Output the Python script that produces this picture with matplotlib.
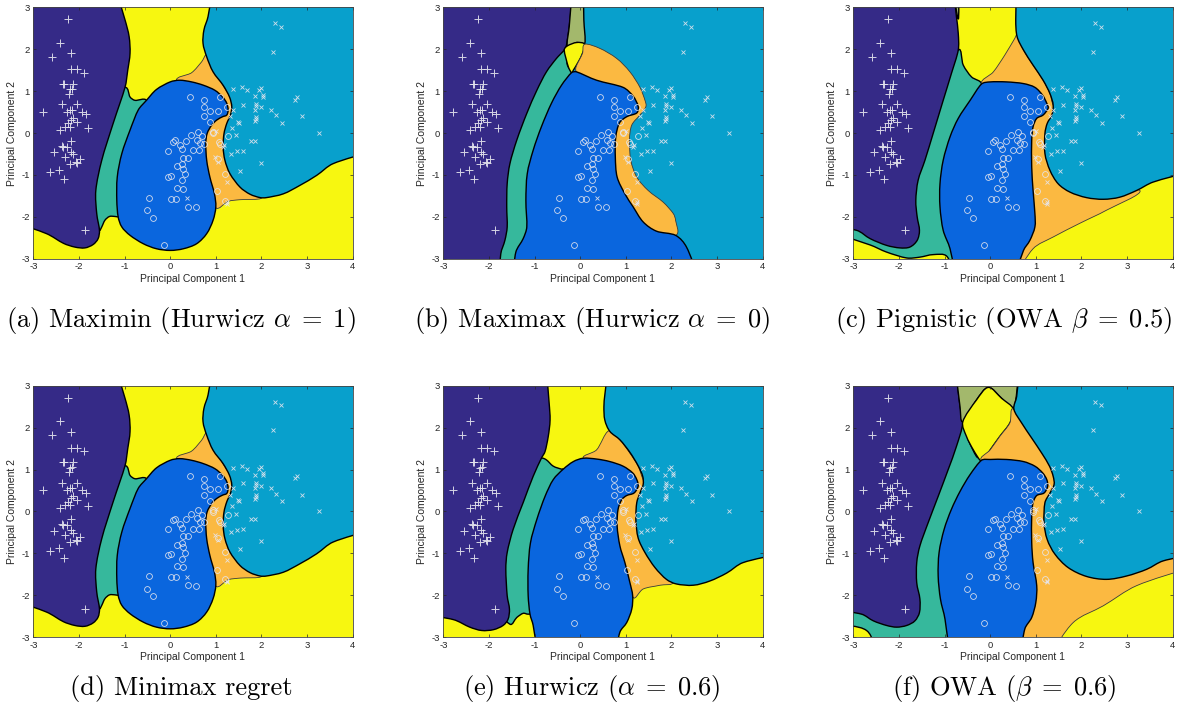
"""
Decision regions on the first two principal components (iris-like data),
six decision criteria in a 2x3 grid, MATLAB/parula look.
"""

import numpy as np
import matplotlib.pyplot as plt
from matplotlib.patches import PathPatch
from matplotlib.path import Path

plt.rcParams["font.family"] = ["Liberation Sans", "DejaVu Sans"]
plt.rcParams["mathtext.fontset"] = "cm"
plt.rcParams["axes.unicode_minus"] = False

# region colours
PURPLE = "#352a87"
TEAL = "#36b89c"
BLUE = "#0a66de"
LIGHT = "#08a0cc"
ORANGE = "#fbb941"
YELLOW = "#f7f710"
OLIVE = "#a3b86c"

# ---- scatter points ----
SETOSA_X = [-2.23, -2.42, -2.18, -2.60, -2.18, -2.05, -1.89, -2.36, -2.33, -2.12,
            -2.20, -2.16, -2.21, -2.38, -2.04, -2.78, -2.27, -2.20, -2.16, -1.94,
            -1.85, -2.12, -2.18, -2.04, -2.23, -2.30, -2.42, -2.20, -1.80, -2.18,
            -2.38, -2.34, -2.27, -2.55, -2.18, -2.14, -2.30, -1.98, -2.07, -2.20,
            -2.04, -2.43, -2.64, -2.33, -1.86]
SETOSA_Y = [2.71, 2.16, 1.90, 1.82, 1.52, 1.52, 1.44, 1.17, 1.17, 1.17,
            1.04, 1.06, 0.94, 0.69, 0.69, 0.50, 0.50, 0.55, 0.55, 0.50,
            0.45, 0.37, 0.31, 0.27, 0.23, 0.15, 0.08, 0.15, 0.12, -0.19,
            -0.31, -0.33, -0.33, -0.46, -0.45, -0.51, -0.57, -0.62, -0.68, -0.73,
            -0.71, -0.87, -0.94, -1.10, -2.32]

VERSI_X = [0.43, 0.75, 1.09, 0.74, 0.87, 1.05, 1.24, 0.74, 0.87, 0.61,
           0.45, 0.69, 0.58, 0.65, 0.74, 0.93, 0.94, 1.27, 1.08, 0.10,
           0.07, 0.21, 0.34, 0.25, 0.49, 0.63, -0.04, 0.40, 0.27, 0.25,
           0.14, 0.29, 0.32, 0.25, -0.04, 0.01, 0.14, 0.27, 1.05, 1.09,
           1.21, 1.03, 1.20, -0.46, 0.01, 0.12, -0.50, -0.37, 0.40, 0.56, -0.13]
VERSI_Y = [0.85, 0.78, 0.85, 0.61, 0.53, 0.53, 0.61, 0.40, 0.26, 0.03,
           -0.05, -0.08, -0.16, -0.24, -0.25, 0.03, -0.01, -0.08, -0.21, -0.17,
           -0.21, -0.29, -0.19, -0.39, -0.41, -0.41, -0.43, -0.59, -0.59, -0.75,
           -0.79, -0.85, -0.98, -1.13, -1.05, -1.02, -1.30, -1.33, -0.63, -0.25,
           -0.97, -1.39, -1.62, -1.54, -1.57, -1.57, -1.84, -2.02, -1.76, -1.77, -2.66]

VIRGI_X = [2.30, 2.43, 2.26, 1.38, 1.57, 1.69, 1.95, 1.99, 1.86, 2.04,
           2.04, 1.89, 1.87, 1.59, 2.20, 2.00, 1.86, 2.73, 2.77, 1.38,
           1.31, 1.87, 1.89, 2.31, 1.86, 2.89, 1.48, 1.51, 2.44, 1.36,
           1.00, 1.44, 3.27, 1.78, 1.86, 1.18, 1.16, 1.46, 1.59, 1.33,
           0.98, 1.05, 2.00, 1.54, 1.25, 0.37, 1.24, 1.24]
VIRGI_Y = [2.62, 2.54, 1.94, 1.04, 1.09, 1.02, 1.02, 1.07, 0.88, 0.91,
           0.86, 0.69, 0.64, 0.68, 0.56, 0.61, 0.55, 0.80, 0.85, 0.56,
           0.40, 0.39, 0.34, 0.42, 0.29, 0.40, 0.27, 0.25, 0.24, 0.13,
           0.05, -0.05, 0.00, -0.19, -0.19, -0.29, -0.33, -0.44, -0.43, -0.49,
           -0.57, -0.69, -0.71, -0.90, -1.17, -1.56, -1.69, -1.65]

# ---- decision regions (outline vertices in data units) ----
# (a) maximin, also (d) minimax regret
A_PURPLE = [(-3, 3), (-1.21, 3), (-0.99, 2.70), (-0.90, 2.30), (-0.88, 1.90), (-0.93, 1.50),
            (-0.99, 1.09), (-1.25, 0.23), (-1.50, -0.65), (-1.63, -1.37), (-1.61, -1.92),
            (-1.55, -2.32), (-1.58, -2.52), (-1.69, -2.66), (-1.87, -2.74), (-2.09, -2.72),
            (-2.34, -2.63), (-2.71, -2.40), (-3, -2.10)]
A_TEAL = [(-0.99, 1.09), (-0.88, 0.86), (-0.77, 0.78), (-0.52, 0.78), (-0.30, 0.0),
          (-0.40, -2.0), (-1.14, -2.0), (-1.21, -1.99), (-1.33, -1.99), (-1.43, -2.08),
          (-1.50, -2.24), (-1.55, -2.32), (-1.90, -0.81), (-1.54, 0.78)]
A_ORANGE = [(0.14, 1.25), (0.47, 1.44), (0.69, 1.70), (0.81, 1.86), (1.09, 1.26), (1.53, 0.39),
            (1.67, -1.29), (2.00, -1.55), (1.53, -1.59), (1.27, -1.63), (1.00, -1.78),
            (0.65, -0.81), (0.65, 0.78)]
A_BLUE = [(-0.52, 0.78), (-0.30, 1.04), (0.0, 1.22), (0.21, 1.26), (0.47, 1.22), (0.73, 1.14),
          (0.98, 1.02), (1.15, 0.86), (1.24, 0.71), (1.27, 0.55), (1.24, 0.43), (1.15, 0.39),
          (1.02, 0.31), (0.91, 0.19), (0.81, -0.01), (0.78, -0.25), (0.80, -0.65), (0.87, -1.05),
          (0.97, -1.45), (1.00, -1.76), (0.94, -2.08), (0.80, -2.40), (0.58, -2.64), (0.29, -2.76),
          (0.0, -2.80), (-0.30, -2.76), (-0.59, -2.64), (-0.88, -2.44), (-1.06, -2.24),
          (-1.14, -2.00), (-1.17, -1.61), (-1.16, -1.05), (-1.06, -0.49), (-0.88, 0.07),
          (-0.70, 0.55)]
A_LIGHT = [(0.94, 3), (4, 3), (4, -0.41), (3.57, -0.73), (3.21, -1.01), (2.84, -1.25),
           (2.48, -1.45), (2.11, -1.54), (1.97, -1.54), (1.75, -1.46), (1.53, -1.29),
           (1.31, -0.97), (1.20, -0.65), (1.16, -0.33), (1.18, -0.01), (1.24, 0.23), (1.32, 0.43),
           (1.35, 0.63), (1.30, 0.86), (1.16, 1.14), (0.94, 1.46), (0.80, 1.82), (0.72, 2.14),
           (0.74, 2.46), (0.83, 2.78)]

# (b) maximax
B_PURPLE = [(-3, 3), (-0.15, 3), (-0.24, 2.54), (-0.30, 2.10), (-0.35, 1.98), (-0.52, 1.78),
            (-0.74, 1.46), (-0.95, 1.02), (-1.17, 0.47), (-1.39, -0.17), (-1.54, -0.73),
            (-1.60, -1.21), (-1.61, -1.76), (-1.60, -2.24), (-1.65, -2.56), (-1.74, -2.88),
            (-1.77, -3), (-3, -3)]
B_TEAL = [(-0.35, 1.98), (-0.28, 1.62), (-0.19, 1.44), (-0.2, 0.5), (-0.7, -2.0), (-0.9, -3),
          (-1.9, -3), (-1.9, 0.0), (-0.9, 1.4)]
B_OLIVE = [(-0.17, 3), (0.07, 3), (0.08, 2.70), (0.10, 2.14), (-0.08, 2.16), (-0.28, 2.08),
           (-0.24, 2.54)]
B_YELLOW = [(-0.35, 1.98), (-0.28, 2.08), (-0.08, 2.16), (0.10, 2.12), (0.05, 1.90),
            (-0.04, 1.70), (-0.15, 1.50), (-0.19, 1.44), (-0.26, 1.58)]
B_ORANGE = [(0.10, 2.12), (0.43, 2.02), (0.80, 1.78), (1.09, 1.46), (1.31, 1.09), (1.42, 0.78),
            (1.44, 0.63), (1.31, 0.43), (1.13, 0.19), (1.08, -0.17), (1.11, -0.65), (1.24, -1.05),
            (1.49, -1.37), (1.82, -1.65), (2.04, -1.92), (2.09, -2.08), (2.09, -2.44),
            (1.38, -2.32), (0.65, -0.81), (0.65, 0.78), (-0.08, 1.46), (-0.09, 1.58), (0.05, 1.90)]
B_BLUE = [(-0.19, 1.44), (-0.08, 1.46), (0.36, 1.26), (0.94, 1.09), (1.16, 0.88), (1.27, 0.64),
          (1.24, 0.48), (1.02, 0.39), (0.86, 0.24), (0.78, -0.09), (0.77, -0.57), (0.81, -1.05),
          (0.98, -1.45), (1.16, -1.76), (1.38, -2.12), (1.67, -2.34), (2.09, -2.44), (2.33, -2.72),
          (2.61, -3), (-1.48, -3), (-1.41, -2.84), (-1.25, -2.52), (-1.17, -2.24), (-1.19, -1.61),
          (-1.16, -0.97), (-1.03, -0.41), (-0.85, 0.15), (-0.63, 0.71), (-0.41, 1.14)]

# (c) pignistic
C_PURPLE = [(-3, 3), (-0.81, 3), (-0.74, 2.78), (-0.70, 2.38), (-0.70, 1.98), (-0.85, 1.42),
            (-1.03, 0.78), (-1.25, -0.01), (-1.43, -0.65), (-1.58, -1.13), (-1.63, -1.61),
            (-1.60, -2.00), (-1.55, -2.32), (-1.60, -2.56), (-1.76, -2.72), (-1.98, -2.74),
            (-2.27, -2.68), (-2.63, -2.52), (-2.93, -2.32), (-3, -2.26)]
C_TEAL = [(-3, -2.26), (-2.0, 0.0), (-0.70, 1.98), (-0.59, 1.62), (-0.41, 1.34), (-0.19, 1.17),
          (-0.3, 0.0), (-0.6, -2.6), (-0.74, -3), (-0.95, -2.94), (-1.25, -2.90), (-1.54, -2.96),
          (-1.83, -2.98), (-2.27, -2.84), (-2.63, -2.67), (-3, -2.36)]
C_OLIVE = [(-0.82, 3), (-0.69, 3), (-0.70, 2.72)]
C_ORANGE = [(-0.19, 1.17), (0.07, 1.46), (0.32, 1.86), (0.54, 2.26), (0.59, 2.34), (0.73, 1.98),
            (0.94, 1.62), (1.16, 1.26), (1.31, 0.94), (1.38, 0.67), (1.75, -0.01), (2.11, -1.29),
            (3.28, -1.37), (2.55, -1.84), (1.97, -2.15), (1.38, -2.48), (0.94, -2.76), (0.50, -3),
            (0.3, -1.61), (0.3, 0.78)]
C_LIGHT = [(0.58, 3), (4, 3), (4, -0.89), (3.57, -1.17), (3.21, -1.37), (2.84, -1.53),
           (2.48, -1.58), (2.11, -1.54), (1.75, -1.41), (1.49, -1.21), (1.31, -0.89),
           (1.20, -0.49), (1.20, -0.01), (1.25, 0.23), (1.35, 0.43), (1.38, 0.67), (1.31, 0.94),
           (1.16, 1.26), (0.94, 1.62), (0.73, 1.98), (0.59, 2.30), (0.56, 2.70)]
C_BLUE = [(-0.19, 1.17), (0.0, 1.22), (0.36, 1.22), (0.73, 1.18), (0.98, 1.09), (1.15, 0.90),
          (1.24, 0.71), (1.27, 0.59), (1.16, 0.43), (1.02, 0.35), (0.94, 0.15), (0.91, -0.17),
          (0.91, -0.81), (0.94, -1.37), (0.98, -1.92), (0.98, -2.24), (0.87, -2.56), (0.73, -2.80),
          (0.51, -3), (-0.74, -3), (-0.88, -2.76), (-1.03, -2.32), (-1.10, -1.76), (-1.10, -1.21),
          (-1.03, -0.65), (-0.88, -0.09), (-0.70, 0.35), (-0.44, 0.78)]

# (e) hurwicz 0.6
E_PURPLE = [(-3, 3), (-0.75, 3), (-0.68, 2.58), (-0.66, 2.18), (-0.70, 1.79), (-0.77, 1.43),
            (-0.85, 1.27), (-1.03, 0.84), (-1.25, 0.21), (-1.47, -0.43), (-1.60, -0.98),
            (-1.63, -1.38), (-1.60, -2.01), (-1.55, -2.33), (-1.58, -2.57), (-1.69, -2.72),
            (-1.90, -2.82), (-2.16, -2.84), (-2.42, -2.76), (-2.78, -2.58), (-3, -2.45)]
E_TEAL = [(-0.85, 1.27), (-0.74, 1.23), (-0.59, 1.08), (-0.41, 1.01), (-0.37, 1.01),
          (-0.45, -0.59), (-0.95, -2.40), (-1.14, -2.45), (-1.25, -2.43), (-1.39, -2.53),
          (-1.54, -2.69), (-1.90, -2.17), (-1.54, 0.99)]
E_ORANGE = [(0.07, 1.27), (0.36, 1.47), (0.62, 1.92), (0.87, 1.71), (1.09, 1.39), (1.27, 1.08),
            (1.38, 0.76), (1.82, -0.19), (2.04, -1.68), (1.75, -1.76), (1.38, -1.85),
            (1.16, -2.05), (0.65, -0.59), (0.65, 1.0)]
E_LIGHT = [(0.62, 3), (4, 3), (4, -0.98), (3.57, -1.22), (3.21, -1.47), (2.84, -1.66),
           (2.48, -1.76), (2.11, -1.73), (1.89, -1.62), (1.64, -1.34), (1.42, -0.98),
           (1.27, -0.63), (1.22, -0.19), (1.24, 0.21), (1.31, 0.44), (1.38, 0.64), (1.37, 0.84),
           (1.27, 1.09), (1.09, 1.41), (0.87, 1.71), (0.65, 1.91), (0.54, 2.18), (0.52, 2.50),
           (0.54, 2.78)]
E_BLUE = [(-0.37, 1.01), (-0.15, 1.19), (0.07, 1.27), (0.36, 1.25), (0.65, 1.19), (0.94, 1.08),
          (1.15, 0.92), (1.24, 0.76), (1.27, 0.60), (1.18, 0.44), (1.02, 0.38), (0.91, 0.28),
          (0.83, 0.05), (0.81, -0.35), (0.87, -0.82), (0.98, -1.22), (1.09, -1.70), (1.15, -2.01),
          (1.13, -2.33), (1.02, -2.65), (0.87, -2.88), (0.76, -3), (-0.92, -3), (-1.03, -2.72),
          (-1.10, -2.45), (-1.14, -2.01), (-1.14, -1.38), (-1.09, -0.75), (-0.95, -0.19),
          (-0.77, 0.36), (-0.59, 0.76)]

# (f) owa 0.6
F_PURPLE = [(-3, 3), (-0.77, 3), (-0.66, 2.50), (-0.60, 2.11), (-0.74, 1.55), (-0.92, 1.00),
            (-1.14, 0.36), (-1.36, -0.27), (-1.54, -0.82), (-1.61, -1.22), (-1.61, -1.70),
            (-1.54, -2.09), (-1.55, -2.41), (-1.65, -2.61), (-1.83, -2.72), (-2.05, -2.76),
            (-2.27, -2.72), (-2.56, -2.61), (-2.82, -2.45), (-3, -2.33)]
F_TEAL = [(-3, -2.33), (-2.0, 0.0), (-0.60, 2.11), (-0.48, 1.71), (-0.30, 1.31), (-0.19, 1.22),
          (-0.3, 0.0), (-0.6, -2.5), (-0.88, -3), (-2.49, -3), (-2.71, -2.84), (-3, -2.68)]
F_OLIVE = [(-0.77, 3), (0.65, 3), (0.51, 2.44), (0.25, 2.70), (-0.04, 2.96), (-0.30, 2.66),
           (-0.60, 2.14), (-0.66, 2.49)]
F_YELLOW = [(-0.60, 2.14), (-0.30, 2.66), (-0.04, 2.96), (0.25, 2.70), (0.51, 2.44),
            (0.43, 2.11), (0.21, 1.79), (0.0, 1.47), (-0.15, 1.23), (-0.22, 1.22), (-0.37, 1.47),
            (-0.52, 1.79)]
F_ORANGE = [(-0.19, 1.22), (0.0, 1.47), (0.21, 1.79), (0.43, 2.11), (0.51, 2.44), (1.38, 1.38),
            (2.11, -0.59), (4, -1.02), (4, -1.30), (3.21, -1.77), (2.48, -2.25), (1.82, -2.65),
            (1.27, -3), (0.65, -3), (0.5, -1.0), (0.5, 1.0)]
F_LIGHT = [(0.65, 3), (4, 3), (4, -1.02), (3.79, -1.18), (3.43, -1.38), (2.99, -1.54),
           (2.55, -1.62), (2.11, -1.55), (1.71, -1.34), (1.42, -1.02), (1.25, -0.67),
           (1.18, -0.27), (1.20, 0.21), (1.31, 0.44), (1.40, 0.64), (1.38, 0.84), (1.30, 1.08),
           (1.13, 1.39), (0.91, 1.75), (0.69, 2.11), (0.52, 2.44), (0.58, 2.74)]
F_BLUE = [(-0.19, 1.22), (0.0, 1.24), (0.36, 1.24), (0.73, 1.19), (0.98, 1.08), (1.15, 0.92),
          (1.24, 0.76), (1.26, 0.60), (1.18, 0.44), (1.02, 0.38), (0.94, 0.21), (0.91, -0.11),
          (0.91, -0.74), (0.94, -1.22), (1.02, -1.77), (1.00, -2.17), (0.91, -2.53), (0.76, -2.80),
          (0.65, -3), (-0.88, -3), (-0.99, -2.57), (-1.09, -2.09), (-1.14, -1.54), (-1.12, -0.98),
          (-1.01, -0.43), (-0.85, 0.05), (-0.66, 0.48), (-0.44, 0.88)]

CAPTIONS = [
    r"(a) Maximin (Hurwicz $\alpha\;=\;1$)",
    r"(b) Maximax (Hurwicz $\alpha\;=\;0$)",
    r"(c) Pignistic (OWA $\beta\;=\;0.5$)",
    r"(d) Minimax regret",
    r"(e) Hurwicz ($\alpha\;=\;0.6$)",
    r"(f) OWA ($\beta\;=\;0.6$)",
]

# background colour + regions in drawing order
PANELS = [
    (YELLOW, [(A_TEAL, TEAL), (A_ORANGE, ORANGE), (A_PURPLE, PURPLE), (A_BLUE, BLUE), (A_LIGHT, LIGHT)]),
    (LIGHT, [(B_TEAL, TEAL), (B_PURPLE, PURPLE), (B_OLIVE, OLIVE), (B_YELLOW, YELLOW),
             (B_ORANGE, ORANGE), (B_BLUE, BLUE)]),
    (YELLOW, [(C_TEAL, TEAL), (C_PURPLE, PURPLE), (C_OLIVE, OLIVE), (C_ORANGE, ORANGE),
              (C_LIGHT, LIGHT), (C_BLUE, BLUE)]),
    (YELLOW, [(A_TEAL, TEAL), (A_ORANGE, ORANGE), (A_PURPLE, PURPLE), (A_BLUE, BLUE), (A_LIGHT, LIGHT)]),
    (YELLOW, [(E_TEAL, TEAL), (E_ORANGE, ORANGE), (E_PURPLE, PURPLE), (E_LIGHT, LIGHT), (E_BLUE, BLUE)]),
    (YELLOW, [(F_TEAL, TEAL), (F_PURPLE, PURPLE), (F_OLIVE, OLIVE), (F_YELLOW, YELLOW),
              (F_ORANGE, ORANGE), (F_LIGHT, LIGHT), (F_BLUE, BLUE)]),
]

W, H = 1182, 717
AX_LEFT = [33.3, 443.3, 853.3]
AX_TOP = [7.3, 385.7]
AX_W, AX_H = 319.4, 251.5
CAP_X = [181, 592, 1004]
CAP_Y = [320, 688]


def region_path(verts):
    """Closed smooth outline through the vertices (cubic Bezier pieces).
    Vertices on the frame are pushed outwards and joined with straight lines."""
    v = np.array(verts, dtype=float)
    on_frame = (v[:, 0] <= -3) | (v[:, 0] >= 4) | (v[:, 1] <= -3) | (v[:, 1] >= 3)
    v[:, 0] = np.where(v[:, 0] <= -3, -3.5, np.where(v[:, 0] >= 4, 4.5, v[:, 0]))
    v[:, 1] = np.where(v[:, 1] >= 3, 3.5, np.where(v[:, 1] <= -3, -3.5, v[:, 1]))
    n = len(v)
    pts, codes = [v[0]], [Path.MOVETO]
    for i in range(n):
        p0, p1, p2, p3 = v[i - 1], v[i], v[(i + 1) % n], v[(i + 2) % n]
        seg = np.hypot(*(p2 - p1))
        if on_frame[i] and on_frame[(i + 1) % n]:
            pts.append(p2)
            codes.append(Path.LINETO)
            continue
        t1 = (p2 - p1) / 3 if on_frame[i] else (p2 - p0) / 6
        t2 = (p2 - p1) / 3 if on_frame[(i + 1) % n] else (p3 - p1) / 6
        # keep handles short so sharp junctions do not overshoot
        for t in (t1, t2):
            ln = np.hypot(*t)
            if ln > seg / 3:
                t *= seg / 3 / ln
        pts += [p1 + t1, p2 - t2, p2]
        codes += [Path.CURVE4] * 3
    pts.append(v[0])
    codes.append(Path.CLOSEPOLY)
    return Path(pts, codes)


def draw_panel(ax, bg, regions):
    ax.set_facecolor(bg)
    for verts, col in regions:
        thin = col == ORANGE
        ax.add_patch(PathPatch(region_path(verts), facecolor=col,
                               edgecolor="#3a3a3a" if thin else "black",
                               linewidth=0.6 if thin else 1.0, joinstyle="round"))

    mk = dict(linestyle="none", color="#e6e6ee", alpha=0.9)
    ax.plot(SETOSA_X, SETOSA_Y, marker="+", markersize=5.5, markeredgewidth=0.7, **mk)
    ax.plot(VERSI_X, VERSI_Y, marker="o", markersize=4.2, markerfacecolor="none",
            markeredgewidth=0.6, **mk)
    ax.plot(VIRGI_X, VIRGI_Y, marker="x", markersize=3.0, markeredgewidth=0.6, **mk)

    ax.set_xlim(-3, 4)
    ax.set_ylim(-3, 3)
    ax.set_xticks(range(-3, 5))
    ax.set_yticks(range(-3, 4))
    ax.tick_params(direction="in", top=True, right=True, length=2.5, width=0.5,
                   labelsize=6.8, pad=2.5, colors="#262626")
    for s in ax.spines.values():
        s.set_linewidth(0.6)
        s.set_color("#444444")
    ax.set_xlabel("Principal Component 1", fontsize=7.5, labelpad=2, color="#262626")
    ax.set_ylabel("Principal Component 2", fontsize=7.5, labelpad=3, color="#262626")


def main():
    fig = plt.figure(figsize=(W / 100, H / 100), dpi=100)
    for i, (bg, regions) in enumerate(PANELS):
        r, c = divmod(i, 3)
        ax = fig.add_axes([AX_LEFT[c] / W, 1 - (AX_TOP[r] + AX_H) / H, AX_W / W, AX_H / H])
        draw_panel(ax, bg, regions)
        fig.text(CAP_X[c] / W, 1 - CAP_Y[r] / H, CAPTIONS[i], ha="center", va="center",
                 fontsize=19, family="cmr10")
    fig.savefig("out.png", dpi=100)


if __name__ == "__main__":
    main()
